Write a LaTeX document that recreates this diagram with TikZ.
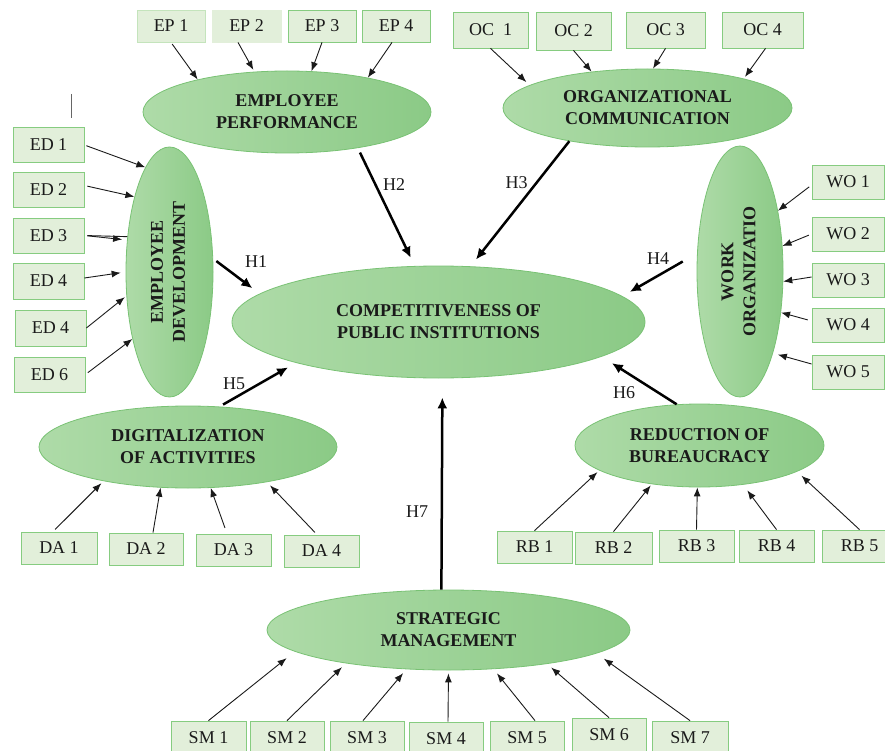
\documentclass[tikz,border=0pt]{standalone}
\usepackage{fontspec}
\setmainfont{Liberation Serif}
\definecolor{boxfill}{HTML}{E2EFDA}
\definecolor{boxline}{HTML}{86CC80}
\definecolor{boxpale}{HTML}{C4E4BC}
\definecolor{ovallight}{HTML}{AEDBA8}
\definecolor{ovaldark}{HTML}{8BCA86}
\definecolor{ovalline}{HTML}{79C274}
\definecolor{ink}{HTML}{1A1A1A}
\usetikzlibrary{shapes.geometric,arrows.meta}

\begin{document}
\begin{tikzpicture}[
  x=1pt, y=-1pt,
  box/.style={draw=boxline, fill=boxfill, line width=0.8pt, minimum width=74pt,
    minimum height=34pt, inner sep=0pt, font=\fontsize{18}{22}\selectfont, text=ink},
  latent/.style={ellipse, draw=ovalline, line width=0.8pt, left color=ovallight,
    right color=ovaldark, inner sep=0pt, align=center,
    font=\fontsize{18}{22}\selectfont\bfseries, text=ink},
  arr/.style={-{Latex[length=9pt,width=7pt]}, line width=0.9pt, ink},
  hyp/.style={-{Latex[length=11pt,width=10pt]}, line width=2.5pt, black},
  hlab/.style={font=\fontsize{18}{22}\selectfont, inner sep=0pt, text=ink}
]
  \useasboundingbox (0,0) rectangle (885,751);

  % Constructs
  \node[latent, minimum width=413pt, minimum height=112pt] (comp) at (438.5,322)
    {COMPETITIVENESS OF\\PUBLIC INSTITUTIONS};
  \node[latent, minimum width=288pt, minimum height=82pt] (perf) at (287,112)
    {EMPLOYEE\\PERFORMANCE};
  \node[latent, minimum width=289pt, minimum height=78pt] (comm) at (647.5,108)
    {ORGANIZATIONAL\\COMMUNICATION};
  \node[latent, minimum width=87pt, minimum height=250pt] (devel) at (169.5,272)
    {\rotatebox{90}{\begin{tabular}{@{}c@{}}EMPLOYEE\\DEVELOPMENT\end{tabular}}};
  \node[latent, minimum width=86pt, minimum height=251pt] (work) at (740,271.5)
    {\rotatebox{90}{\begin{tabular}{@{}c@{}}WORK\\ORGANIZATIO\end{tabular}}};
  \node[latent, minimum width=298pt, minimum height=82pt] (digit) at (188,447)
    {DIGITALIZATION\\OF ACTIVITIES};
  \node[latent, minimum width=249pt, minimum height=83pt] (bureau) at (699.5,445.5)
    {REDUCTION OF\\BUREAUCRACY};
  \node[latent, minimum width=363pt, minimum height=80pt] (strat) at (448.5,630)
    {STRATEGIC\\MANAGEMENT};

  % Indicators: employee performance
  \node[box, draw=boxpale, minimum width=68pt, minimum height=32pt] (ep1) at (171,26) {EP 1};
  \node[box, draw=boxfill, minimum width=69pt, minimum height=32pt] (ep2) at (246.5,26) {EP 2};
  \node[box, minimum width=68pt, minimum height=32pt] (ep3) at (322,26) {EP 3};
  \node[box, minimum width=68pt, minimum height=32pt] (ep4) at (396,26) {EP 4};

  % Indicators: organizational communication
  \node[box, minimum width=75pt, minimum height=36pt] (oc1) at (490.5,30) {OC~~1};
  \node[box, minimum width=75pt, minimum height=38pt] (oc2) at (573.5,31) {OC 2};
  \node[box, minimum width=79pt, minimum height=36pt] (oc3) at (665.5,30) {OC 3};
  \node[box, minimum width=81pt, minimum height=36pt] (oc4) at (762.5,30) {OC 4};

  % Indicators: employee development
  \node[box, minimum width=71pt, minimum height=35pt] (ed1) at (48.5,145) {ED 1};
  \node[box, minimum width=71pt, minimum height=35pt] (ed2) at (48.5,189.5) {ED 2};
  \node[box, minimum width=71pt, minimum height=35pt] (ed3) at (48.5,235.5) {ED 3};
  \node[box, minimum width=71pt, minimum height=36pt] (ed4) at (48.5,281) {ED 4};
  \node[box, minimum width=71pt, minimum height=36pt] (ed5) at (50.5,328) {ED 4};
  \node[box, minimum width=71pt, minimum height=35pt] (ed6) at (49.5,374.5) {ED 6};

  % Indicators: work organization
  \node[box, minimum width=72pt] (wo1) at (848,182) {WO 1};
  \node[box, minimum width=72pt] (wo2) at (848,234) {WO 2};
  \node[box, minimum width=72pt] (wo3) at (848,280) {WO 3};
  \node[box, minimum width=72pt] (wo4) at (848,325) {WO 4};
  \node[box, minimum width=72pt] (wo5) at (848,372) {WO 5};

  % Indicators: digitalization
  \node[box, minimum width=76pt, minimum height=32pt] (da1) at (59,548) {DA 1};
  \node[box, minimum width=74pt, minimum height=32pt] (da2) at (146,549) {DA 2};
  \node[box, minimum width=75pt, minimum height=32pt] (da3) at (233.5,550) {DA 3};
  \node[box, minimum width=75pt, minimum height=32pt] (da4) at (321.5,551) {DA 4};

  % Indicators: bureaucracy
  \node[box, minimum width=75pt, minimum height=32pt] (rb1) at (534.5,547) {RB 1};
  \node[box, minimum width=77pt, minimum height=32pt] (rb2) at (613.5,548) {RB 2};
  \node[box, minimum width=75pt, minimum height=32pt] (rb3) at (696.5,546) {RB 3};
  \node[box, minimum width=75pt, minimum height=32pt] (rb4) at (776.5,546) {RB 4};
  \node[box, minimum width=75pt, minimum height=32pt] (rb5) at (859.5,546) {RB 5};

  % Indicators: strategic management
  \node[box, minimum width=75pt] (sm1) at (208.5,738) {SM 1};
  \node[box] (sm2) at (287,738) {SM 2};
  \node[box] (sm3) at (367,738) {SM 3};
  \node[box] (sm4) at (446,739) {SM 4};
  \node[box] (sm5) at (527,738) {SM 5};
  \node[box] (sm6) at (609,735) {SM 6};
  \node[box, minimum width=76pt] (sm7) at (690,738) {SM 7};

  % Indicator arrows
  \draw[arr, shorten <=2pt] (ep1.south) -- (perf.160);
  \draw[arr, shorten >=2pt] ([xshift=-8.5pt]ep2.south) -- (perf.129);
  \draw[arr] (ep3.south) -- (perf.59);
  \draw[arr] ([xshift=-4pt]ep4.south) -- (perf.23);
  \draw[arr, shorten >=4.5pt] (oc1.south) -- (comm.169);
  \draw[arr] (oc2.south) -- (comm.147);
  \draw[arr] (oc3.south) -- (comm.82);
  \draw[arr, shorten >=2pt] ([xshift=3pt]oc4.south) -- (comm.17);
  \draw[arr, shorten <=2pt] (ed1.east) -- (devel.103);
  \draw[arr, shorten <=3pt] ([yshift=4pt]ed2.east) -- (devel.115);
  \draw[arr, shorten <=3pt, shorten >=5pt] (ed3.east) -- (devel.143);
  \draw[ink, line width=0.9pt, shorten <=3pt] (ed3.east) -- (devel.140);
  \draw[arr, shorten >=5pt] ([yshift=3pt]ed4.east) -- (devel.180);
  \draw[arr, shorten >=2pt] (ed5.east) -- (devel.209);
  \draw[arr, shorten <=3pt] (ed6.east) -- (devel.241);
  \draw[arr, shorten <=3pt] ([yshift=-3pt]wo1.west) -- (work.58);
  \draw[arr, shorten <=3pt] (wo2.west) -- (work.31);
  \draw[arr] ([yshift=3pt]wo3.west) -- (work.347);
  \draw[arr, shorten <=4pt] ([yshift=4pt]wo4.west) -- (work.315);
  \draw[arr, shorten >=5pt] ([yshift=8pt]wo5.west) -- (work.292);
  \draw[arr, shorten <=3pt, shorten >=3pt] ([xshift=-6pt]da1.north) -- (digit.202);
  \draw[arr] ([xshift=7pt]da2.north) -- (digit.236);
  \draw[arr, shorten <=6pt] ([xshift=-6.5pt]da3.north) -- (digit.299);
  \draw[arr, shorten <=3pt, shorten >=4.5pt] ([xshift=-4.5pt]da4.north) -- (digit.336);
  \draw[arr, shorten >=2.5pt] (rb1.north) -- (bureau.194);
  \draw[arr, shorten >=1.5pt] (rb2.north) -- (bureau.219);
  \draw[arr] (rb3.north) -- (bureau.267);
  \draw[arr, shorten >=7pt] (rb4.north) -- (bureau.318);
  \draw[arr, shorten >=6pt] (rb5.north) -- (bureau.345);
  \draw[arr, shorten >=10.5pt] (sm1.north) -- (strat.188.5);
  \draw[arr, shorten >=5.5pt] (sm2.north) -- (strat.198);
  \draw[arr, shorten >=5pt] ([xshift=-4pt]sm3.north) -- (strat.223);
  \draw[arr, shorten >=3pt] ([xshift=2pt]sm4.north) -- (strat.270);
  \draw[arr, shorten >=5.5pt] ([xshift=8pt]sm5.north) -- (strat.319);
  \draw[arr, shorten >=5.5pt] (sm6.north) -- (strat.341);
  \draw[arr, shorten >=9pt] (sm7.north) -- (strat.351);

  % Hypotheses
  \draw[hyp, shorten <=4pt, shorten >=9pt] (devel.17) -- (comp.171);
  \draw[hyp, shorten <=5pt, shorten >=9pt] (perf.333) -- (comp.113);
  \draw[hyp, shorten >=8.5pt] (comm.203) -- (comp.60);
  \draw[hyp, shorten <=16.5pt, shorten >=8.5pt] (work.157) -- (comp.8);
  \draw[hyp, shorten <=4pt, shorten >=9pt] (digit.52) -- (comp.196);
  \draw[hyp, shorten >=12pt] (bureau.119) -- (comp.348.5);
  \draw[hyp, shorten >=19pt] (strat.100) -- (comp.274);

  % Labels
  \node[hlab] (h1) at (256,262) {H1};
  \node[hlab] (h2) at (394,185) {H2};
  \node[hlab] (h3) at (516.5,183) {H3};
  \node[hlab] (h4) at (658,259) {H4};
  \node[hlab] (h5) at (234,384) {H5};
  \node[hlab] (h6) at (624,392.5) {H6};
  \node[hlab] (h7) at (417,511.5) {H7};

  % Stray mark
  \draw[gray!80!black, line width=1pt] (71.5,94) -- (71.5,118);
\end{tikzpicture}
\end{document}
